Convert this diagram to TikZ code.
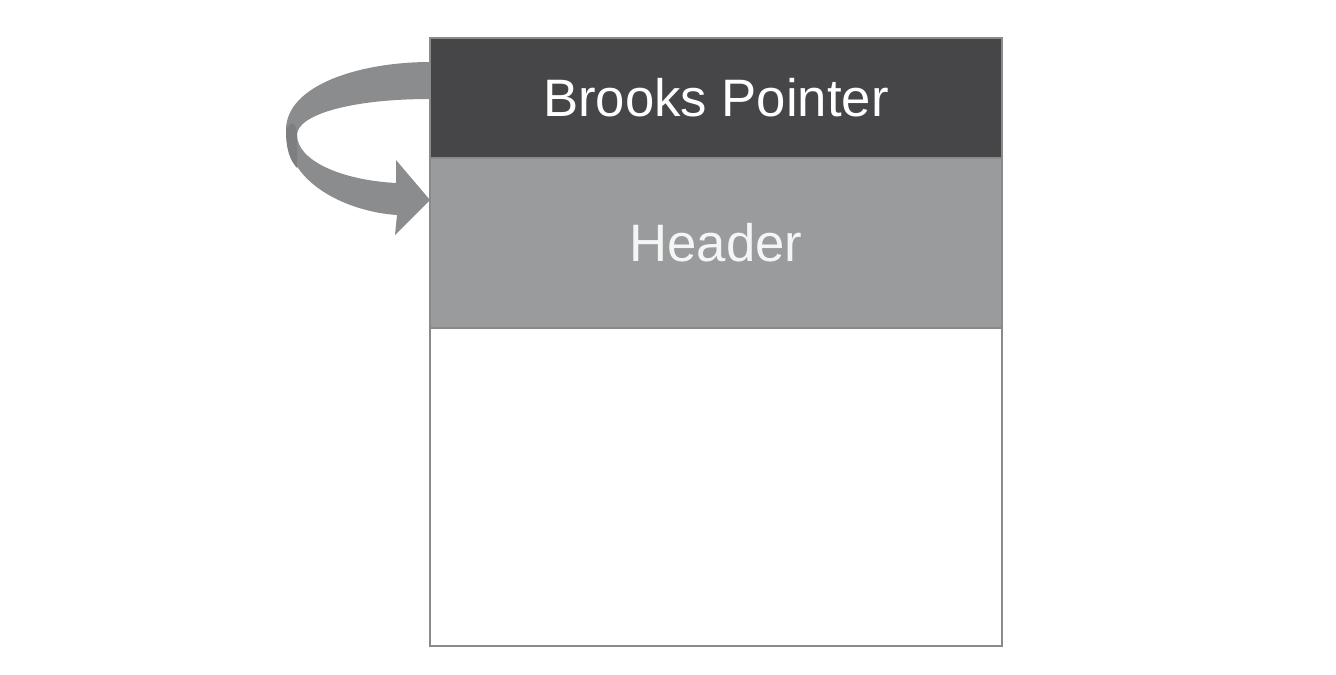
\documentclass[tikz,border=0pt]{standalone}
\usepackage{fontspec}
\setmainfont{Liberation Sans}
\usepackage{xcolor}
\usetikzlibrary{positioning,calc}

\definecolor{ptrdark}{HTML}{464648}
\definecolor{hdrgray}{HTML}{999B9D}
\definecolor{arrgray}{HTML}{8B8C8D}
\definecolor{edgegray}{HTML}{8A8A8A}

\begin{document}
\begin{tikzpicture}[x=0.02cm, y=-0.02cm,
    row/.style={rectangle, draw=edgegray, line width=1.2pt, minimum width=11.44cm, inner sep=0pt, font=\fontsize{30}{36}\selectfont, text=white, outer sep=0pt}
]
    \useasboundingbox (0,0) rectangle (1336,674);

    % Block rows
    \node[row, fill=ptrdark, minimum height=2.4cm] (pointer) at (716,98) {Brooks Pointer};
    \node[row, fill=hdrgray, minimum height=3.4cm, text=white!96!black, below=0cm of pointer] (header) {Header};
    \node[row, fill=white, minimum height=6.36cm, below=0cm of header] (body) {};

    % Curved arrow from pointer to header
    \fill[arrgray] (430,62) .. controls (360,62) and (286,85) .. (286,130)
        .. controls (286,185) and (350,212) .. (397,215)
        -- (395,235) -- (430,200) -- (396,160) -- (396,183)
        .. controls (340,180) and (297,160) .. (297,135)
        .. controls (297,115) and (350,99) .. (430,99) -- cycle;
    \fill[arrgray!90!black] (286,130) .. controls (286,150) and (290,160) .. (297,168)
        .. controls (297,150) and (297,140) .. (297,135)
        .. controls (297,125) and (292,118) .. (286,130) -- cycle;
\end{tikzpicture}
\end{document}
